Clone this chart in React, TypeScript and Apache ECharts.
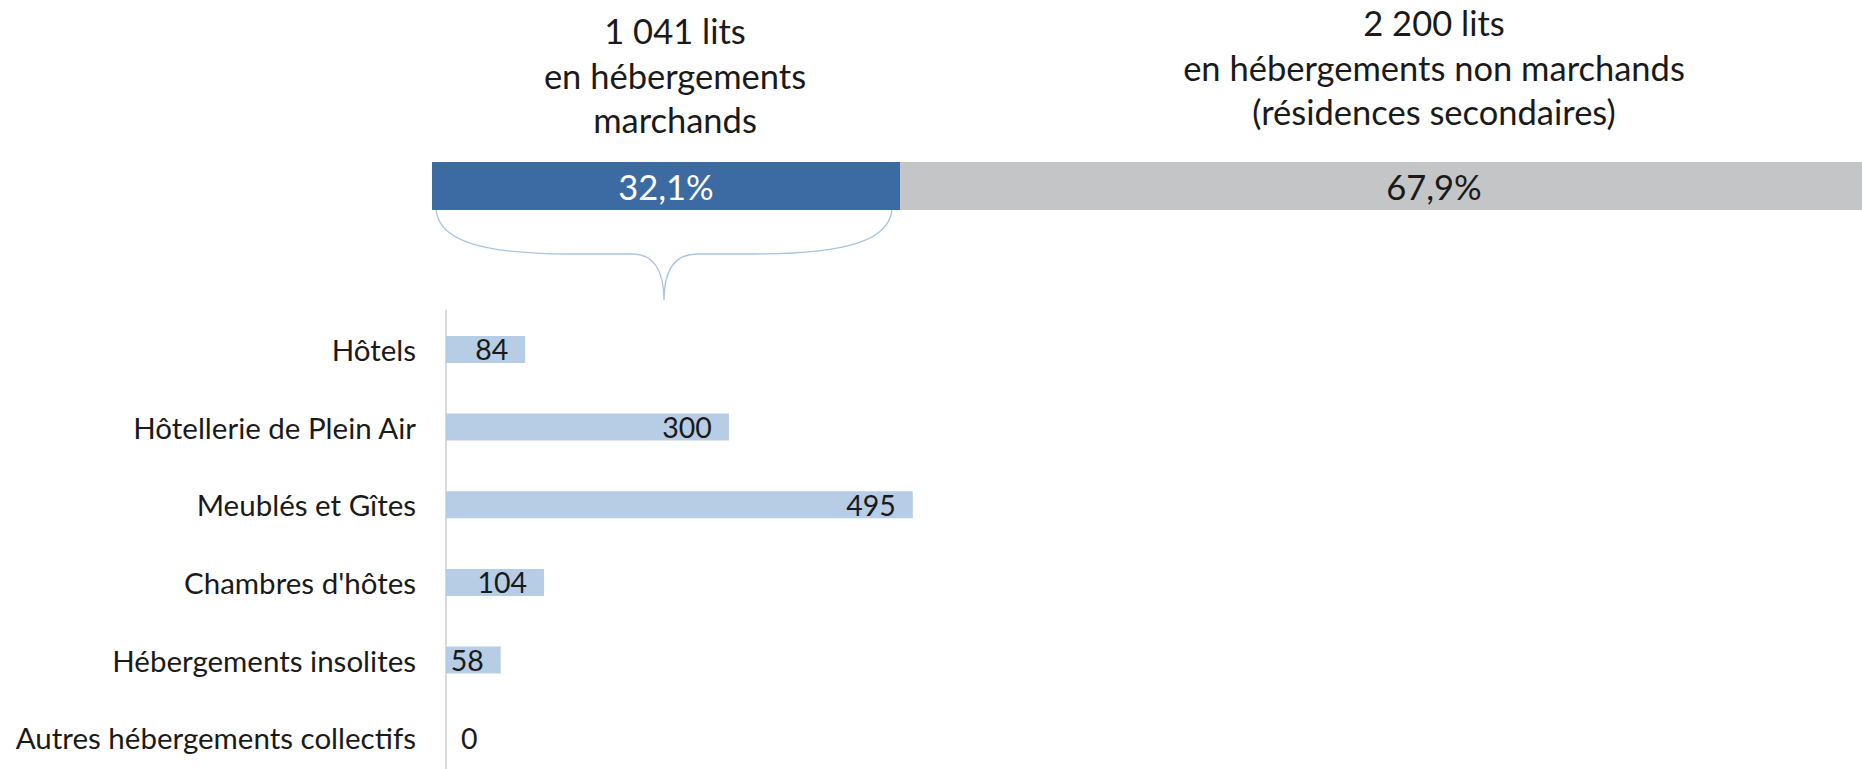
import React, { useEffect, useRef } from 'react';
import * as echarts from 'echarts';

// ---- Data ----
const segmentNames = ['marchands', 'non marchands'];
const segmentBeds = [1041, 2200];
const segmentShares = [32.1, 67.9];
const segmentSubtitles = ['en hébergements\nmarchands', 'en hébergements non marchands\n(résidences secondaires)'];

const categories = [
  'Hôtels',
  'Hôtellerie de Plein Air',
  'Meublés et Gîtes',
  "Chambres d'hôtes",
  'Hébergements insolites',
  'Autres hébergements collectifs',
];
const beds = [84, 300, 495, 104, 58, 0];

// ---- Style ----
const FONT = 'Lato, "Open Sans", sans-serif';
const BLUE = '#3C6AA2';
const GREY = '#C4C5C7';
const LIGHT = '#B7CDE5';
const BRACE = '#A9C3E3';
const TEXT = '#1a1a1a';
const TITLE_SIZE = 34.5;
const CAT_SIZE = 29.5;
const VALUE_SIZE = 28.5;

const fmtInt = (n: number) => String(n).replace(/\B(?=(\d{3})+(?!\d))/g, ' ');
const fmtPct = (n: number) => n.toFixed(1).replace('.', ',') + '%';

const BRACE_D =
  'M436,207 C436,240 480,254 570,254 L633,254 C653,254 664,270 664,300 ' +
  'C664,270 675,254 697,254 L753,254 C848,254 892,240 892,207';
echarts.graphic.registerShape('brace', echarts.graphic.extendPath(BRACE_D, {}) as any);

export default function App() {
  const ref = useRef<HTMLDivElement>(null);
  useEffect(() => {
    const chart = echarts.init(ref.current!, null, { renderer: 'svg' });
    const option: any = {
      animation: false,
      textStyle: { fontFamily: FONT },
      grid: [
        { left: 432, top: 162, width: 1458, height: 48, outerBoundsMode: 'none', containLabel: false },
        { left: 446, top: 310.6, width: 471.5, height: 466, outerBoundsMode: 'none', containLabel: false },
      ],
      xAxis: [
        { gridIndex: 0, type: 'value', min: 0, max: 100, show: false },
        { gridIndex: 1, type: 'value', min: 0, max: 500, show: false },
      ],
      yAxis: [
        { gridIndex: 0, type: 'category', data: ['lits'], show: false },
        {
          gridIndex: 1,
          type: 'category',
          data: categories,
          inverse: true,
          axisLine: { show: true, lineStyle: { color: '#D9D9D9', width: 2 } },
          axisTick: { show: false },
          splitLine: { show: false },
          axisLabel: { fontSize: CAT_SIZE, color: TEXT, margin: 30, fontFamily: FONT },
        },
      ],
      series: [
        {
          name: segmentNames[0],
          type: 'bar',
          xAxisIndex: 0,
          yAxisIndex: 0,
          stack: 'total',
          barWidth: '100%',
          data: [segmentShares[0]],
          itemStyle: { color: BLUE },
          label: {
            show: true,
            position: 'inside',
            formatter: (p: any) => fmtPct(p.value),
            color: '#ffffff',
            fontSize: TITLE_SIZE,
            fontFamily: FONT,
          },
        },
        {
          name: segmentNames[1],
          type: 'bar',
          xAxisIndex: 0,
          yAxisIndex: 0,
          stack: 'total',
          barWidth: '100%',
          data: [segmentShares[1]],
          itemStyle: { color: GREY },
          label: {
            show: true,
            position: 'inside',
            offset: [39, 0],
            formatter: (p: any) => fmtPct(p.value),
            color: TEXT,
            fontSize: TITLE_SIZE,
            fontFamily: FONT,
          },
        },
        {
          name: 'lits marchands',
          type: 'bar',
          xAxisIndex: 1,
          yAxisIndex: 1,
          barWidth: 27,
          data: beds.map((v) =>
            v === 0
              ? { value: v, label: { position: 'right', distance: 15 } }
              : { value: v }
          ),
          itemStyle: { color: LIGHT },
          label: {
            show: true,
            position: 'insideRight',
            distance: 17,
            color: TEXT,
            fontSize: VALUE_SIZE,
            fontFamily: FONT,
          },
        },
      ],
      graphic: [
        {
          type: 'text',
          x: 675,
          y: 75,
          style: {
            text: `${fmtInt(segmentBeds[0])} lits\n${segmentSubtitles[0]}`,
            fontSize: TITLE_SIZE,
            fontFamily: FONT,
            lineHeight: 44.5,
            fill: TEXT,
            textAlign: 'center',
            textVerticalAlign: 'middle',
          },
        },
        {
          type: 'text',
          x: 1434,
          y: 67,
          style: {
            text: `${fmtInt(segmentBeds[1])} lits\n${segmentSubtitles[1]}`,
            fontSize: TITLE_SIZE,
            fontFamily: FONT,
            lineHeight: 44.5,
            fill: TEXT,
            textAlign: 'center',
            textVerticalAlign: 'middle',
          },
        },
        {
          type: 'brace',
          x: 0,
          y: 0,
          style: { fill: 'none', stroke: BRACE, lineWidth: 1.3 },
        },
      ],
    };
    chart.setOption(option);
    return () => chart.dispose();
  }, []);
  return (
    <div
      ref={ref}
      style={{ position: 'absolute', left: 0, top: 0, width: 1862, height: 769, background: '#ffffff' }}
    />
  );
}
